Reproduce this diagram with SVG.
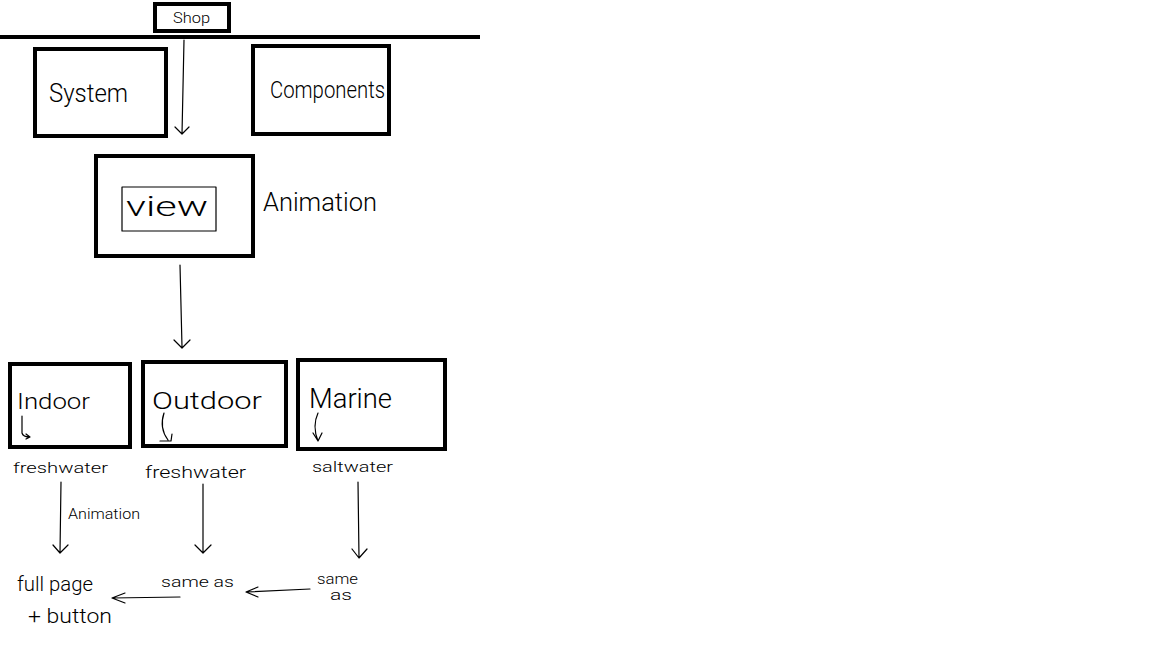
<svg xmlns="http://www.w3.org/2000/svg" width="1152" height="648" viewBox="0 0 1152 648">
<style>
.box{fill:none;stroke:#000;stroke-width:4}
.thin{fill:none;stroke:#000;stroke-width:1.2;stroke-linecap:round;stroke-linejoin:round}
text{font-family:Roboto,"Liberation Sans",Arial,sans-serif;fill:#000;font-weight:300}
</style>
<rect width="1152" height="648" fill="#fff"/>
<line x1="0" y1="37" x2="480" y2="37" stroke="#000" stroke-width="4"/>
<g id="shop"><rect class="box" x="155" y="4" width="74" height="27"/><text x="173" y="23" font-size="14" textLength="37" lengthAdjust="spacingAndGlyphs">Shop</text></g>
<g id="system"><rect class="box" x="35" y="49" width="131" height="87"/><text x="49" y="102" font-size="26" textLength="79" lengthAdjust="spacingAndGlyphs">System</text></g>
<g id="components"><rect class="box" x="253" y="46" width="136" height="88"/><text x="270" y="98" font-size="24" textLength="115" lengthAdjust="spacingAndGlyphs">Components</text></g>
<g id="view"><rect class="box" x="96" y="156" width="157" height="100"/><rect class="thin" x="122" y="187" width="94" height="44"/><text x="126" y="216" font-size="28" textLength="82" lengthAdjust="spacingAndGlyphs">view</text></g>
<g id="animation-label"><text x="263" y="211" font-size="26" textLength="114" lengthAdjust="spacingAndGlyphs">Animation</text></g>
<g id="indoor"><rect class="box" x="10" y="364" width="120" height="83"/><text x="17" y="409" font-size="22" textLength="73" lengthAdjust="spacingAndGlyphs">Indoor</text><path class="thin" d="M22 416 L22 433 Q23 437 30 437 M26 434 L30 437 L26 439"/></g>
<g id="outdoor"><rect class="box" x="143" y="362" width="143" height="84"/><text x="152" y="409" font-size="24" textLength="110" lengthAdjust="spacingAndGlyphs">Outdoor</text><path class="thin" d="M164 413 Q159 428 168 440 M160 441 L171 441 L172 434"/></g>
<g id="marine"><rect class="box" x="298" y="360" width="147" height="89"/><text x="309" y="408" font-size="28" textLength="83" lengthAdjust="spacingAndGlyphs">Marine</text><path class="thin" d="M318 413 Q312 426 318 441 M313 433 L318 441 L322 433"/></g>
<g id="labels">
<text x="13" y="473" font-size="15" textLength="95" lengthAdjust="spacingAndGlyphs">freshwater</text>
<text x="145" y="478" font-size="17" textLength="101" lengthAdjust="spacingAndGlyphs">freshwater</text>
<text x="312" y="472" font-size="15" textLength="81" lengthAdjust="spacingAndGlyphs">saltwater</text>
<text x="68" y="519" font-size="14" textLength="72" lengthAdjust="spacingAndGlyphs">Animation</text>
<text x="17" y="591" font-size="20" textLength="76" lengthAdjust="spacingAndGlyphs">full page</text>
<text x="28" y="623" font-size="20" textLength="84" lengthAdjust="spacingAndGlyphs">+ button</text>
<text x="161" y="587" font-size="14" textLength="73" lengthAdjust="spacingAndGlyphs">same as</text>
<text x="317" y="584" font-size="14" textLength="41" lengthAdjust="spacingAndGlyphs">same</text>
<text x="330" y="600" font-size="14" textLength="22" lengthAdjust="spacingAndGlyphs">as</text>
</g>
<g id="connectors">
<path class="thin" d="M184 40 L182 134 M175 127 L182 134 L189 127"/>
<path class="thin" d="M180 265 L182 347 M174 340 L182 348 L190 340"/>
<path class="thin" d="M61 482 L60 553 M53 545 L60 553 L68 545"/>
<path class="thin" d="M203 484 L203 553 M195 545 L203 553 L211 545"/>
<path class="thin" d="M358 482 L359 557 M352 549 L359 558 L367 549"/>
<path class="thin" d="M310 589 L246 592 M258 587 L246 592 L258 597"/>
<path class="thin" d="M180 597 L112 598 M125 593 L112 598 L125 603"/>
</g>
</svg>
